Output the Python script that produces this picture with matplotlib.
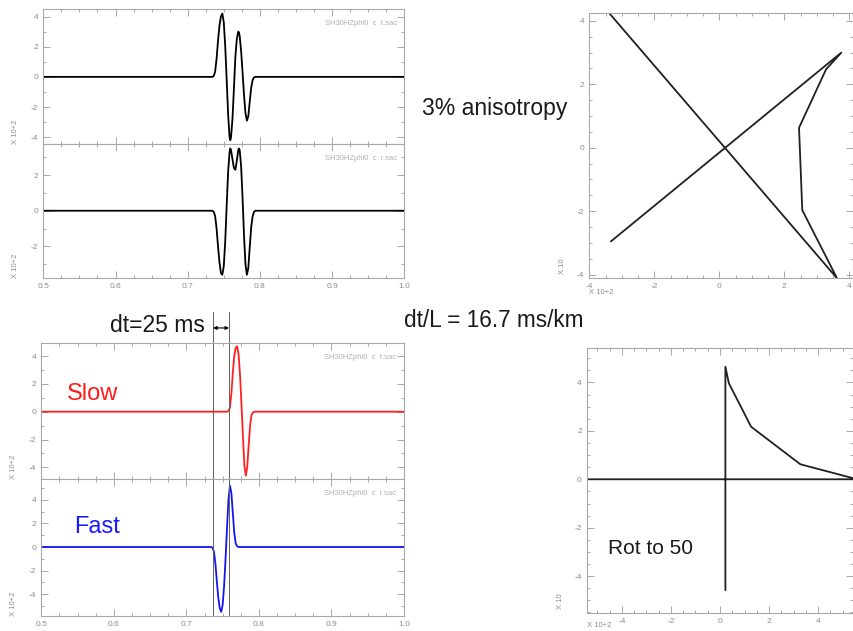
import matplotlib
matplotlib.use("Agg")
import matplotlib.pyplot as plt
from matplotlib.ticker import MultipleLocator

plt.rcParams['font.family'] = ['Liberation Sans', 'DejaVu Sans']
plt.rcParams['axes.unicode_minus'] = False

# --- data ---
# rotated t / r traces (top left), amplitudes x 10+2
tr_time = [0.5, 0.734, 0.736, 0.738, 0.740, 0.742, 0.744, 0.746, 0.748, 0.750,
           0.752, 0.754, 0.756, 0.758, 0.759, 0.760, 0.762, 0.764, 0.766, 0.768,
           0.770, 0.771, 0.772, 0.774, 0.776, 0.778, 0.780, 0.782, 0.784, 0.786,
           0.788, 0.790, 0.792, 0.794, 1.0]
t_amp = [0, 0, 0.05, 0.35, 1.2, 2.4, 3.4, 4.0, 4.2, 3.6,
         2.0, -0.2, -2.5, -4.0, -4.2, -4.0, -2.8, -0.8, 1.3, 2.5,
         3.0, 2.95, 2.7, 1.7, 0.3, -1.2, -2.4, -2.9, -2.6, -1.6,
         -0.7, -0.2, -0.03, 0, 0]
r_amp = [0, 0, -0.05, -0.3, -1.0, -2.0, -2.9, -3.5, -3.6, -3.1,
         -1.7, 0.3, 2.2, 3.3, 3.5, 3.4, 2.9, 2.4, 2.3, 2.8,
         3.4, 3.5, 3.4, 2.5, 0.7, -1.4, -3.0, -3.6, -3.2, -2.0,
         -0.9, -0.3, -0.05, 0, 0]

# slow / fast traces after rotation to 50
fast_time = [0.5, 0.734, 0.736, 0.738, 0.740, 0.742, 0.744, 0.746, 0.748, 0.750,
             0.752, 0.754, 0.756, 0.758, 0.760, 0.762, 0.764, 0.766, 0.768, 0.770,
             0.772, 1.0]
fast_amp = [0, 0, -0.05, -0.4, -1.4, -2.9, -4.3, -5.2, -5.5, -4.9,
            -3.3, -1.0, 1.6, 4.0, 5.2, 4.6, 2.9, 1.2, 0.3, 0.05,
            0, 0]
slow_time = [0.5, 0.756, 0.758, 0.760, 0.762, 0.764, 0.766, 0.768, 0.770, 0.772,
             0.774, 0.776, 0.778, 0.780, 0.782, 0.784, 0.786, 0.788, 0.790, 0.792,
             0.794, 1.0]
slow_amp = [0, 0, 0.05, 0.3, 1.3, 2.8, 4.0, 4.6, 4.7, 4.1,
            2.6, 0.5, -1.8, -3.9, -4.6, -3.9, -2.3, -0.9, -0.2, -0.05,
            0, 0]

# particle motion (x 10+2 horizontal, x 10 vertical)
pm_x = [-3.45, 3.62, 2.55, 2.45, 3.28, 3.75, -3.33]
pm_y = [4.32, -4.12, -1.97, 0.63, 2.47, 3.0, -2.95]
pm_rot_x = [0.22, 0.22, 0.36, 1.27, 3.28, 5.6, -5.6]
pm_rot_y = [-4.57, 4.65, 3.97, 2.17, 0.62, 0.0, 0.0]

onset_fast = 0.7364
onset_slow = 0.7593

W, H = 854, 631
fig = plt.figure(figsize=(W / 100, H / 100), dpi=100)
FRAME = '#a8a8a8'
TXT = '#8c8c8c'


def px_axes(left, top, right, bottom):
    return fig.add_axes([left / W, 1 - bottom / H, (right - left) / W, (bottom - top) / H])


def style(ax, xmaj, xmin, ymaj, ymin, xlabels=True):
    for s in ax.spines.values():
        s.set_color(FRAME)
        s.set_linewidth(0.8)
    ax.xaxis.set_major_locator(MultipleLocator(xmaj))
    ax.xaxis.set_minor_locator(MultipleLocator(xmin))
    ax.yaxis.set_major_locator(MultipleLocator(ymaj))
    ax.yaxis.set_minor_locator(MultipleLocator(ymin))
    ax.tick_params(which='both', direction='in', top=True, right=True,
                   color=FRAME, labelcolor=TXT, labelsize=6, width=0.7)
    ax.tick_params(which='major', length=5)
    ax.tick_params(which='minor', length=2.5)
    if not xlabels:
        ax.tick_params(labelbottom=False)


def trace_axes(ax, x, y, color, ylim, header, xlabels):
    ax.plot(x, y, color=color, lw=1.3)
    ax.set_xlim(0.5, 1.0)
    ax.set_ylim(*ylim)
    style(ax, 0.1, 0.025, 2, 1, xlabels)
    ax.text(0.979, 0.895, header, transform=ax.transAxes, ha='right', va='center',
            fontsize=5.5, color='#b0b0b0')
    ax.text(-0.076, 0.0, 'X 10+2', transform=ax.transAxes, rotation=90,
            ha='center', va='bottom', fontsize=5.5, color=TXT)


# top left: t and r
ax1 = px_axes(43.3, 9, 404.3, 144)
trace_axes(ax1, tr_time, t_amp, 'black', (-4.45, 4.5), 'SH30HZphi0  c  t.sac', False)
ax2 = px_axes(43.3, 144, 404.3, 278)
trace_axes(ax2, tr_time, r_amp, 'black', (-3.78, 3.75), 'SH30HZphi0  c  r.sac', True)
ax2.set_xticks([0.5, 0.6, 0.7, 0.8, 0.9, 1.0])
ax2.set_xticklabels(['0.5', '0.6', '0.7', '0.8', '0.9', '1.0'])

# bottom left: slow and fast
ax3 = px_axes(41.3, 342.7, 404, 479.3)
trace_axes(ax3, slow_time, slow_amp, '#ff2020', (-4.86, 4.96), 'SH30HZphi0  c  t.sac', False)
ax4 = px_axes(41.3, 479.3, 404, 616)
trace_axes(ax4, fast_time, fast_amp, '#1414f0', (-5.85, 5.74), 'SH30HZphi0  c  r.sac', True)
ax4.set_xticks([0.5, 0.6, 0.7, 0.8, 0.9, 1.0])
ax4.set_xticklabels(['0.5', '0.6', '0.7', '0.8', '0.9', '1.0'])

for xv in (onset_fast, onset_slow):
    ax4.axvline(xv, color='#606060', lw=0.7)
    ax3.axvline(xv, ymin=0, ymax=1.225, color='#606060', lw=0.7, clip_on=False)
ax3.annotate('', xy=(onset_slow - 0.0005, 1.108), xytext=(onset_fast + 0.0005, 1.108),
             xycoords=('data', 'axes fraction'), textcoords=('data', 'axes fraction'),
             arrowprops=dict(arrowstyle='<|-|>', color='black', lw=0.8,
                             mutation_scale=5, shrinkA=0, shrinkB=0))

# top right: particle motion
ax5 = px_axes(589.3, 13.3, 853, 277.7)
ax5.plot(pm_x, pm_y, color='#202020', lw=1.3)
ax5.set_xlim(-4, 4.11)
ax5.set_ylim(-4.1, 4.24)
style(ax5, 2, 0.5, 2, 0.5)
ax5.text(-0.1, 0.015, 'X 10', transform=ax5.transAxes, rotation=90,
         ha='center', va='bottom', fontsize=5.5, color=TXT)
ax5.text(0.0, -0.055, 'X 10+2', transform=ax5.transAxes, ha='left', va='center',
         fontsize=5.5, color=TXT)

# bottom right: rotated particle motion
ax6 = px_axes(586.7, 348.3, 853.3, 612.7)
ax6.plot(pm_rot_x, pm_rot_y, color='#202020', lw=1.3)
ax6.set_xlim(-5.44, 5.44)
ax6.set_ylim(-5.51, 5.41)
style(ax6, 2, 0.5, 2, 0.5)
ax6.text(-0.1, 0.015, 'X 10', transform=ax6.transAxes, rotation=90,
         ha='center', va='bottom', fontsize=5.5, color=TXT)
ax6.text(0.0, -0.047, 'X 10+2', transform=ax6.transAxes, ha='left', va='center',
         fontsize=5.5, color=TXT)

# annotations
def ftext(x, baseline, s, size, color='#1a1a1a'):
    fig.text(x / W, 1 - baseline / H, s, fontsize=size, color=color,
             ha='left', va='baseline')


ftext(422, 115, '3% anisotropy', 16.5)
ftext(404, 327, 'dt/L = 16.7 ms/km', 16.3)
ftext(110, 332, 'dt=25 ms', 16.5)
ftext(608, 554, 'Rot to 50', 15)
ftext(67, 400, 'Slow', 17, '#ff1a1a')
ftext(74, 532.7, 'Fast', 17, '#1a1aff')

fig.savefig('out.png', dpi=100)
